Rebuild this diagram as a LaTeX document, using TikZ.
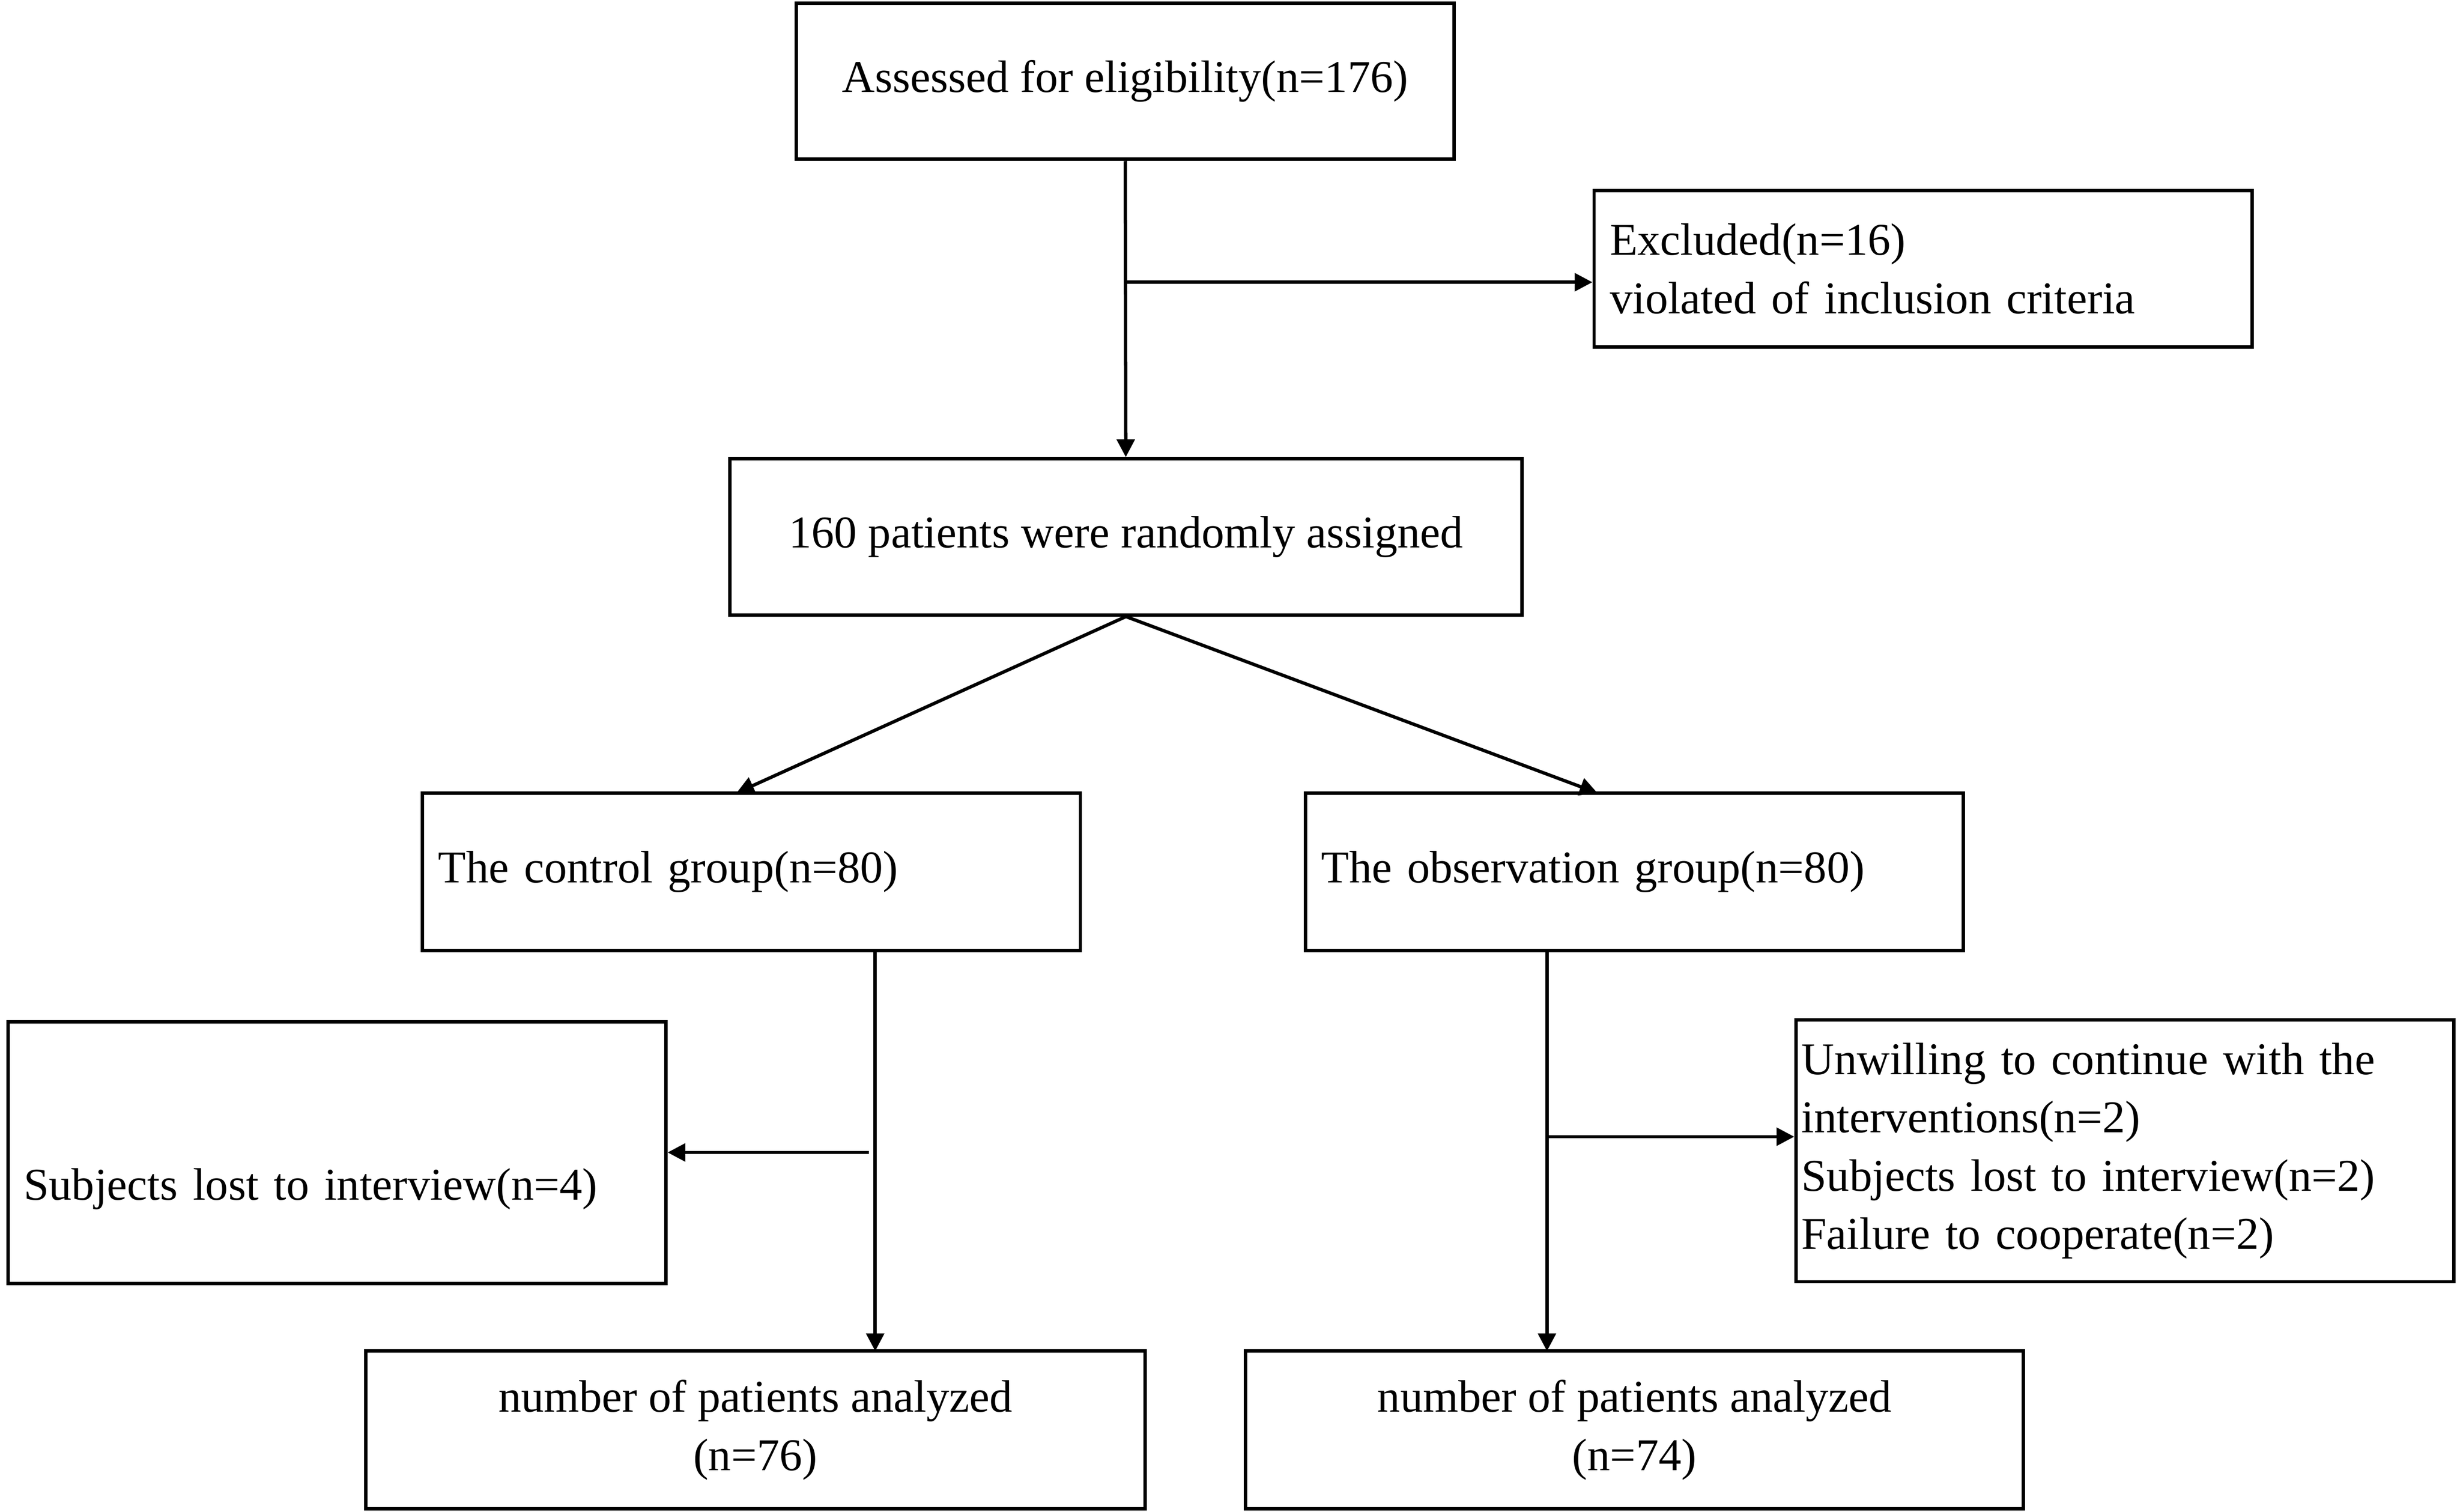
\documentclass[tikz,border=0pt]{standalone}
\usepackage{fontspec}
\setmainfont{Liberation Serif}
\usetikzlibrary{arrows.meta,positioning}

\begin{document}
\begin{tikzpicture}[x=0.01cm,y=-0.01cm,font=\fontsize{8.2}{10.5}\selectfont]
	\tikzset{box/.style={draw,line width=0.6pt,inner sep=2pt,align=center},
		flow/.style={line width=0.6pt,-{Triangle[length=3.2pt,width=3.2pt]}}}
	\useasboundingbox (0,0) rectangle (1560,959);
	\node[box,minimum width=4.17cm,minimum height=0.99cm] (assess) at (713.5,51.5) {Assessed for eligibility(n=176)};
	\node[box,minimum width=4.17cm,minimum height=0.99cm,align=left,text width=3.97cm] (excl) at (1219.5,170.5) {Excluded(n=16)\\violated of inclusion criteria};
	\node[box,minimum width=5.02cm,minimum height=0.99cm] (rand) at (714,340.5) {160 patients were randomly assigned};
	\node[box,minimum width=4.17cm,minimum height=1.0cm,align=left,text width=3.97cm] (ctrl) at (476.5,553) {The control group(n=80)};
	\node[box,minimum width=4.17cm,minimum height=1.0cm,align=left,text width=3.97cm] (obs) at (1036.5,553) {The observation group(n=80)};
	\node[box,minimum width=4.17cm,minimum height=1.66cm,align=left,text width=3.97cm,anchor=north west,text depth=0pt] (lost) at (4,647) {\\[-2pt]Subjects lost to interview(n=4)};
	\node[box,minimum width=4.17cm,minimum height=1.66cm,align=left,text width=4.1cm,inner sep=1pt] (drop) at (1347.5,730) {Unwilling to continue with the\\interventions(n=2)\\Subjects lost to interview(n=2)\\Failure to cooperate(n=2)};
	\node[box,minimum width=4.94cm,minimum height=1.0cm] (anl) at (479,907) {number of patients analyzed\\(n=76)};
	\node[box,minimum width=4.93cm,minimum height=1.0cm] (anr) at (1036.5,907) {number of patients analyzed\\(n=74)};
	\coordinate (b1) at (713,179);
	\coordinate (b2) at (551,731);
	\coordinate (b3) at (981,721);
	\draw[flow] (assess) -- (rand);
	\draw[flow] (b1) -- (excl.west |- b1);
	\draw[flow] (rand.south) -- (467,503);
	\draw[flow] (rand.south) -- (1013,503);
	\draw[flow] (555,603) -- (555,857);
	\draw[flow] (b2) -- (lost.east |- b2);
	\draw[flow] (981,603) -- (981,857);
	\draw[flow] (b3) -- (drop.west |- b3);
\end{tikzpicture}
\end{document}
